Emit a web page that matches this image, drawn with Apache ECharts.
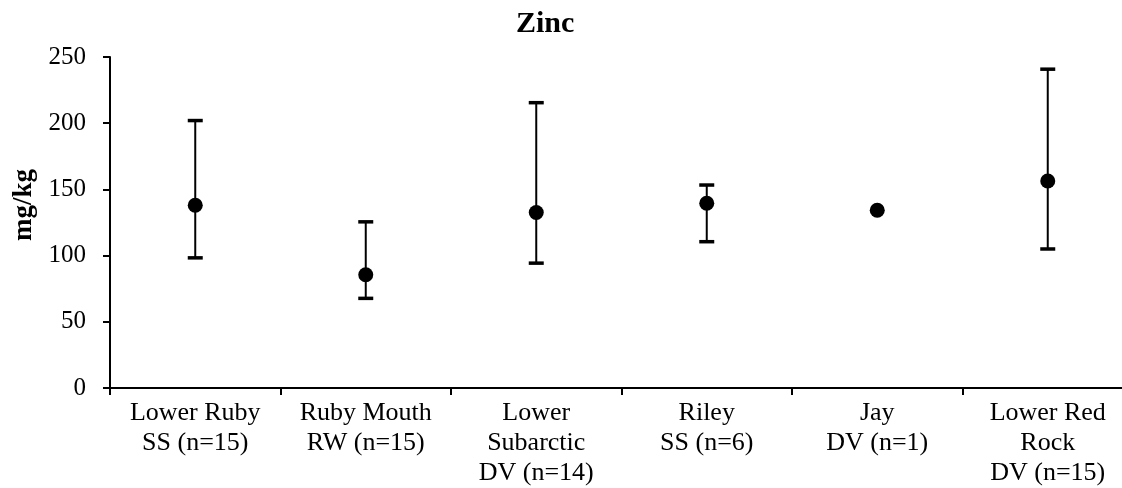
<!DOCTYPE html>
<html>
<head>
<meta charset="utf-8">
<script src="https://cdn.jsdelivr.net/npm/echarts@6/dist/echarts.min.js"></script>
<style>
  html, body { margin: 0; padding: 0; background: #fff; overflow: hidden; }
  #chart { width: 1133px; height: 488px; }
</style>
</head>
<body>
<div id="chart"></div>
<script>
const sites = [
  'Lower Ruby\nSS (n=15)',
  'Ruby Mouth\nRW (n=15)',
  'Lower\nSubarctic\nDV (n=14)',
  'Riley\nSS (n=6)',
  'Jay\nDV (n=1)',
  'Lower Red\nRock\nDV (n=15)'
]
const zincMean = [138, 85.5, 132.5, 139.5, 134.3, 156.3]
const zincHigh = [202, 125.5, 215.5, 153.3, null, 240.8]
const zincLow = [98.3, 67.7, 94.3, 110.5, null, 105]

const font = '"Liberation Serif", "Times New Roman", serif'

// the plot runs a little past the right edge of the window, like the original crop
const chart = echarts.init(document.getElementById('chart'))

const barData = sites.map((s, i) => [i, zincLow[i], zincHigh[i]]).filter(d => d[1] != null)

function renderBar(params, api) {
  const x = api.value(0)
  const lo = api.coord([x, api.value(1)])
  const hi = api.coord([x, api.value(2)])
  const half = 7.5
  const stroke = { stroke: '#000', lineWidth: 2 }
  const cap = { stroke: '#000', lineWidth: 3.5 }
  return {
    type: 'group',
    children: [
      { type: 'line', shape: { x1: lo[0], y1: lo[1], x2: hi[0], y2: hi[1] }, style: stroke },
      { type: 'line', shape: { x1: hi[0] - half, y1: hi[1], x2: hi[0] + half, y2: hi[1] }, style: cap },
      { type: 'line', shape: { x1: lo[0] - half, y1: lo[1], x2: lo[0] + half, y2: lo[1] }, style: cap }
    ]
  }
}

chart.setOption({
  animation: false,
  title: {
    text: 'Zinc',
    left: 511,
    top: 4,
    textStyle: { fontFamily: font, fontWeight: 'bold', fontSize: 30, color: '#000' }
  },
  graphic: [{
    type: 'text',
    x: 24,
    y: 205,
    rotation: Math.PI / 2,
    style: {
      text: 'mg/kg',
      fontFamily: font,
      fontWeight: 'bold',
      fontSize: 27,
      fill: '#000',
      align: 'center',
      verticalAlign: 'middle'
    }
  }],
  grid: { left: 110, right: 0, top: 57, bottom: 98 },
  xAxis: {
    type: 'category',
    data: sites,
    boundaryGap: true,
    axisLine: { lineStyle: { color: '#000', width: 2 } },
    axisTick: { show: true, length: 7, lineStyle: { color: '#000', width: 2 } },
    axisLabel: {
      interval: 0,
      margin: 10,
      color: '#000',
      fontFamily: font,
      fontSize: 26,
      lineHeight: 30
    },
    splitLine: { show: false }
  },
  yAxis: {
    type: 'value',
    min: 0,
    max: 250,
    interval: 50,
    axisLine: { show: true, lineStyle: { color: '#000', width: 2 } },
    axisTick: { show: true, length: 7, lineStyle: { color: '#000', width: 2 } },
    axisLabel: { margin: 24, color: '#000', fontFamily: font, fontSize: 25 },
    splitLine: { show: false }
  },
  series: [
    {
      type: 'custom',
      renderItem: renderBar,
      data: barData,
      encode: { x: 0, y: [1, 2] },
      z: 2
    },
    {
      type: 'scatter',
      data: zincMean,
      symbol: 'circle',
      symbolSize: 15,
      itemStyle: { color: '#000', opacity: 1 },
      z: 3
    }
  ]
})
</script>
</body>
</html>
